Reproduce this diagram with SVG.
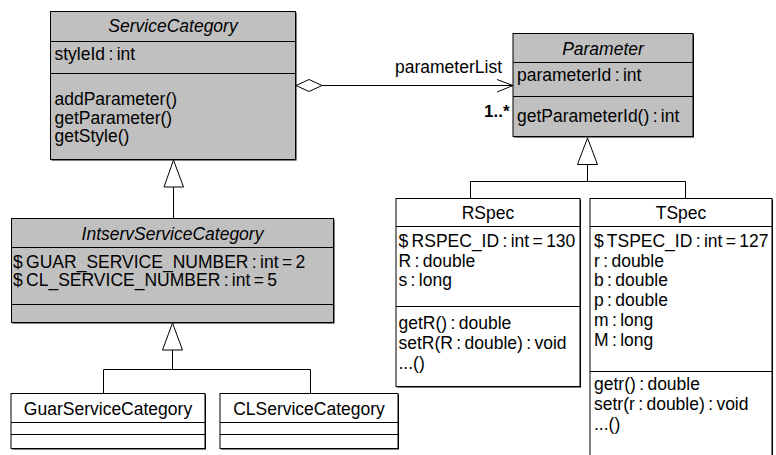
<svg xmlns="http://www.w3.org/2000/svg" width="776" height="455" viewBox="0 0 776 455">
<style>
text{font-family:"Liberation Sans",Arial,sans-serif;font-size:17.5px;fill:#000;word-spacing:-1.5px}
.t{text-anchor:middle}
.i{font-style:italic}
.g{fill:#c0c0c0;stroke:#000;stroke-width:1}
.w{fill:#fff;stroke:#000;stroke-width:1}
.sh{fill:#000}
.d{stroke:#000;stroke-width:1;fill:none}
.c{stroke:#000;stroke-width:1;fill:none}
.tri{fill:#fff;stroke:#000;stroke-width:1}
</style>
<g id="ServiceCategory">
<rect class="sh" x="51.5" y="12.5" width="245" height="148"/>
<rect class="g" x="50.5" y="11.5" width="245" height="148"/>
<line class="d" x1="50.5" y1="41.5" x2="295.5" y2="41.5"/>
<line class="d" x1="50.5" y1="73.5" x2="295.5" y2="73.5"/>
<text class="t i" x="173" y="32">ServiceCategory</text>
<text x="54.5" y="60">styleId : int</text>
<text x="54.5" y="105">addParameter()</text>
<text x="54.5" y="123.5">getParameter()</text>
<text x="54.5" y="142">getStyle()</text>
</g>
<g id="Parameter">
<rect class="sh" x="514" y="34.5" width="180" height="103"/>
<rect class="g" x="513" y="33.5" width="180" height="103"/>
<line class="d" x1="513" y1="62.5" x2="693" y2="62.5"/>
<line class="d" x1="513" y1="96.5" x2="693" y2="96.5"/>
<text class="t i" x="603" y="54.5">Parameter</text>
<text x="517" y="80.5">parameterId : int</text>
<text x="517" y="121.5">getParameterId() : int</text>
</g>
<g id="IntservServiceCategory">
<rect class="sh" x="12.5" y="219.5" width="322" height="104"/>
<rect class="g" x="11.5" y="218.5" width="322" height="104"/>
<line class="d" x1="11.5" y1="247.5" x2="333.5" y2="247.5"/>
<line class="d" x1="11.5" y1="304.5" x2="333.5" y2="304.5"/>
<text class="t i" x="172.5" y="240">IntservServiceCategory</text>
<text x="13" y="267.5">$ GUAR_SERVICE_NUMBER : int = 2</text>
<text x="13" y="286">$ CL_SERVICE_NUMBER : int = 5</text>
</g>
<g id="GuarServiceCategory">
<rect class="sh" x="12" y="394.5" width="194" height="55"/>
<rect class="w" x="11" y="393.5" width="194" height="55"/>
<line class="d" x1="11" y1="422.5" x2="205" y2="422.5"/>
<line class="d" x1="11" y1="434.5" x2="205" y2="434.5"/>
<text class="t" x="108" y="415">GuarServiceCategory</text>
</g>
<g id="CLServiceCategory">
<rect class="sh" x="221" y="394.5" width="178" height="55"/>
<rect class="w" x="220" y="393.5" width="178" height="55"/>
<line class="d" x1="220" y1="422.5" x2="398" y2="422.5"/>
<line class="d" x1="220" y1="434.5" x2="398" y2="434.5"/>
<text class="t" x="309" y="415">CLServiceCategory</text>
</g>
<g id="RSpec">
<rect class="sh" x="397" y="199.5" width="184" height="188"/>
<rect class="w" x="396" y="198.5" width="184" height="188"/>
<line class="d" x1="396" y1="226.5" x2="580" y2="226.5"/>
<line class="d" x1="396" y1="306.5" x2="580" y2="306.5"/>
<text class="t" x="488" y="219">RSpec</text>
<text x="398.5" y="246.5">$ RSPEC_ID : int = 130</text>
<text x="398.5" y="266.5">R : double</text>
<text x="398.5" y="286">s : long</text>
<text x="398.5" y="328.5">getR() : double</text>
<text x="398.5" y="348.5">setR(R : double) : void</text>
<text x="398.5" y="368.5">...()</text>
</g>
<g id="TSpec">
<rect class="sh" x="591" y="199.5" width="182" height="262"/>
<rect class="w" x="590" y="198.5" width="182" height="262"/>
<line class="d" x1="590" y1="226.5" x2="772" y2="226.5"/>
<line class="d" x1="590" y1="371.5" x2="772" y2="371.5"/>
<text class="t" x="681" y="219">TSpec</text>
<text x="594" y="246.5">$ TSPEC_ID : int = 127</text>
<text x="594" y="266.5">r : double</text>
<text x="594" y="286.3">b : double</text>
<text x="594" y="306.2">p : double</text>
<text x="594" y="326">m : long</text>
<text x="594" y="346">M : long</text>
<text x="594" y="390">getr() : double</text>
<text x="594" y="410">setr(r : double) : void</text>
<text x="594" y="430">...()</text>
</g>
<g id="connectors">
<polygon class="tri" points="296,85.5 309,79.5 322,85.5 309,91.5"/>
<line class="c" x1="322" y1="85.5" x2="513" y2="85.5"/>
<polyline class="c" points="497,79.5 513,85.5 497,92"/>
<text x="395" y="73">parameterList</text>
<text x="484" y="117" style="font-weight:bold;font-size:17px">1..*</text>
<polygon class="tri" points="173.5,160 164,187 183.5,187"/>
<line class="c" x1="173.5" y1="187" x2="173.5" y2="218.5"/>
<polygon class="tri" points="172.5,323 162.5,350 182.5,350"/>
<polyline class="c" points="172.5,350 172.5,369.5"/>
<polyline class="c" points="103.5,393.5 103.5,369.5 310.5,369.5 310.5,393.5"/>
<polygon class="tri" points="587.5,138 577.5,164.5 597.5,164.5"/>
<line class="c" x1="587.5" y1="164.5" x2="587.5" y2="181.5"/>
<polyline class="c" points="470.5,198.5 470.5,181.5 685.5,181.5 685.5,198.5"/>
</g>
</svg>
